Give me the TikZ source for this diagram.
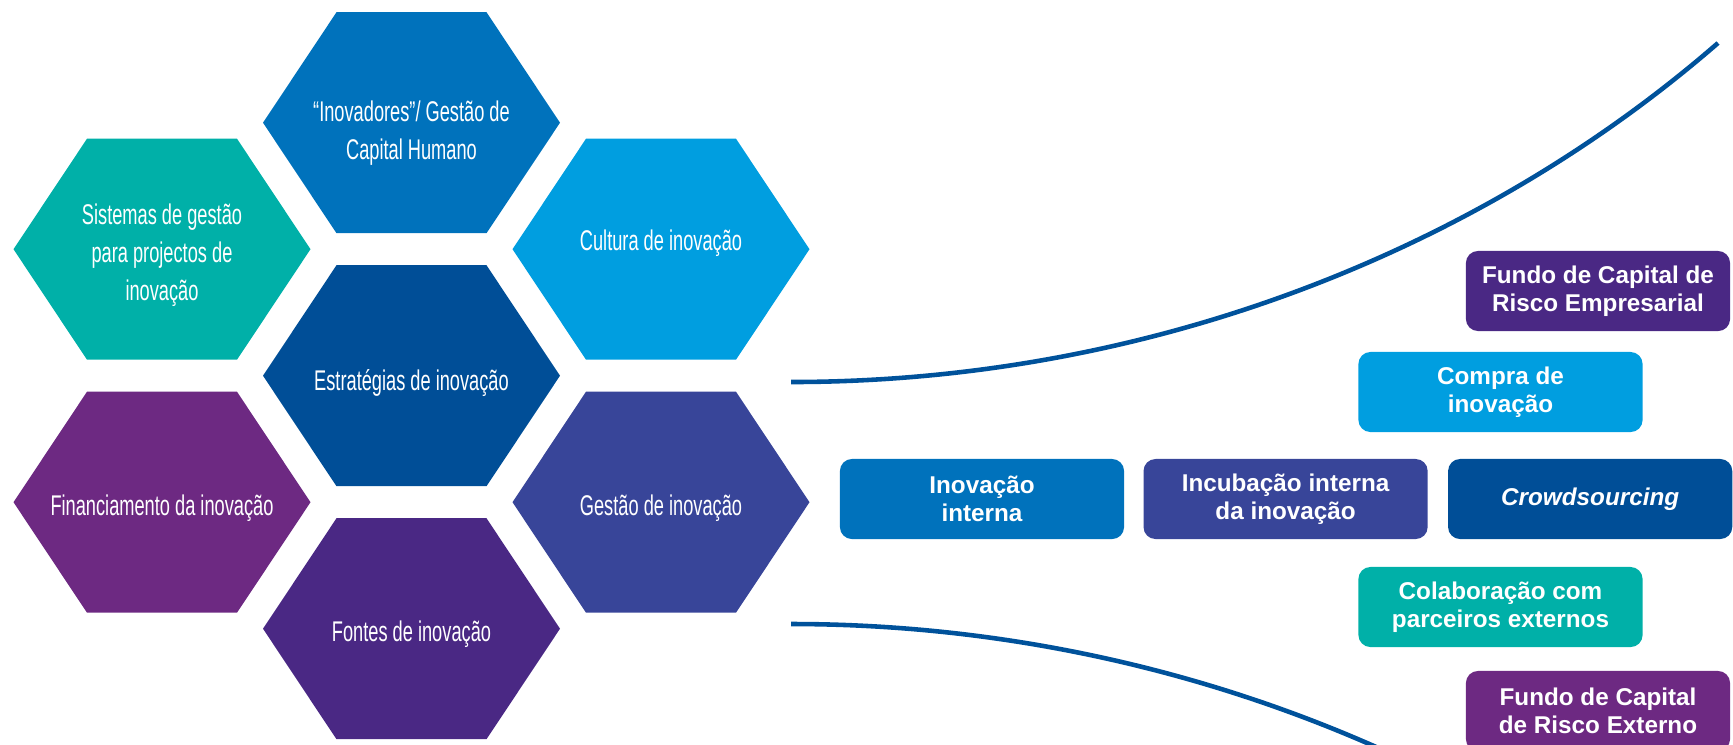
\documentclass[tikz,border=0pt]{standalone}
\usepackage{fontspec}
\setmainfont{Liberation Sans}
\newfontfamily\hexfont[FakeStretch=0.64]{Liberation Sans}
\usetikzlibrary{positioning}

\definecolor{hexteal}{HTML}{00B0A8}
\definecolor{hexblue}{HTML}{0072BC}
\definecolor{hexsky}{HTML}{009EE0}
\definecolor{hexnavy}{HTML}{004E97}
\definecolor{hexplum}{HTML}{6D2982}
\definecolor{hexindigo}{HTML}{384599}
\definecolor{hexviolet}{HTML}{4A2884}
\definecolor{curveblue}{HTML}{00529B}

\begin{document}
\begin{tikzpicture}[x=0.01cm,y=-0.01cm,
	hexlabel/.style={text=white,align=center,font=\hexfont\fontsize{8.1}{10.8}\selectfont},
	box/.style={fill=#1,text=white,rounded corners=1.2mm,minimum width=2.84cm,minimum height=0.8cm,
		inner sep=0pt,align=center,font=\bfseries\fontsize{6.9}{8.05}\selectfont},
	fundbox/.style={box=#1,minimum width=2.64cm},
	funnel/.style={curveblue,line width=1.3pt}]
	\useasboundingbox (0,0) rectangle (1733,744);
	\clip (0,0) rectangle (1733,744);
	% Honeycomb: name / centre / colour / text shift / label
	\foreach \n/\x/\y/\col/\s/\txt in {
		inovadores/411.5/122.7/hexblue/10/{“Inovadores”/ Gestão de\\Capital Humano},
		sistemas/162/249.2/hexteal/6/{Sistemas de gestão\\para projectos de\\inovação},
		cultura/661/249.2/hexsky/-6/{Cultura de inovação},
		estrategias/411.5/375.7/hexnavy/7/{Estratégias de inovação},
		financiamento/162/502.2/hexplum/6/{Financiamento da inovação},
		gestao/661/502.2/hexindigo/6/{Gestão de inovação},
		fontes/411.5/628.7/hexviolet/5/{Fontes de inovação}}
	{
		\fill[\col] (\x,\y) ++(-148.5,0) -- ++(73.5,-110.5) -- ++(150,0) -- ++(73.5,110.5)
			-- ++(-73.5,110.5) -- ++(-150,0) -- cycle;
		\node[hexlabel] (\n) at (\x,\y+\s) {\txt};
	}
	% Funnel edges
	\coordinate (topstart) at (791,382);
	\coordinate (topend) at (1718,43);
	\coordinate (lowstart) at (791,624);
	\coordinate (lowend) at (1718,963);
	\draw[funnel] (topstart) .. controls (1150,382) and (1480,250) .. (topend);
	\draw[funnel] (lowstart) .. controls (1150,624) and (1480,756) .. (lowend);
	% Boxes
	\node[box=hexblue] (interna) at (982,499) {Inovação\\interna};
	\node[box=hexindigo,right=0.18cm of interna] (incubacao) {Incubação interna\\da inovação};
	\node[box=hexnavy,right=0.19cm of incubacao] (crowd) {\itshape Crowdsourcing};
	\node[box=hexsky] (compra) at (1500.5,392) {Compra de\\inovação};
	\node[box=hexteal] (colab) at (1500.5,607) {Colaboração com\\parceiros externos};
	\node[fundbox=hexviolet] (fcrempresa) at (1598,291) {Fundo de Capital de\\Risco Empresarial};
	\node[fundbox=hexplum] (fcrexterno) at (1598,711) {Fundo de Capital\\de Risco Externo};
\end{tikzpicture}
\end{document}
